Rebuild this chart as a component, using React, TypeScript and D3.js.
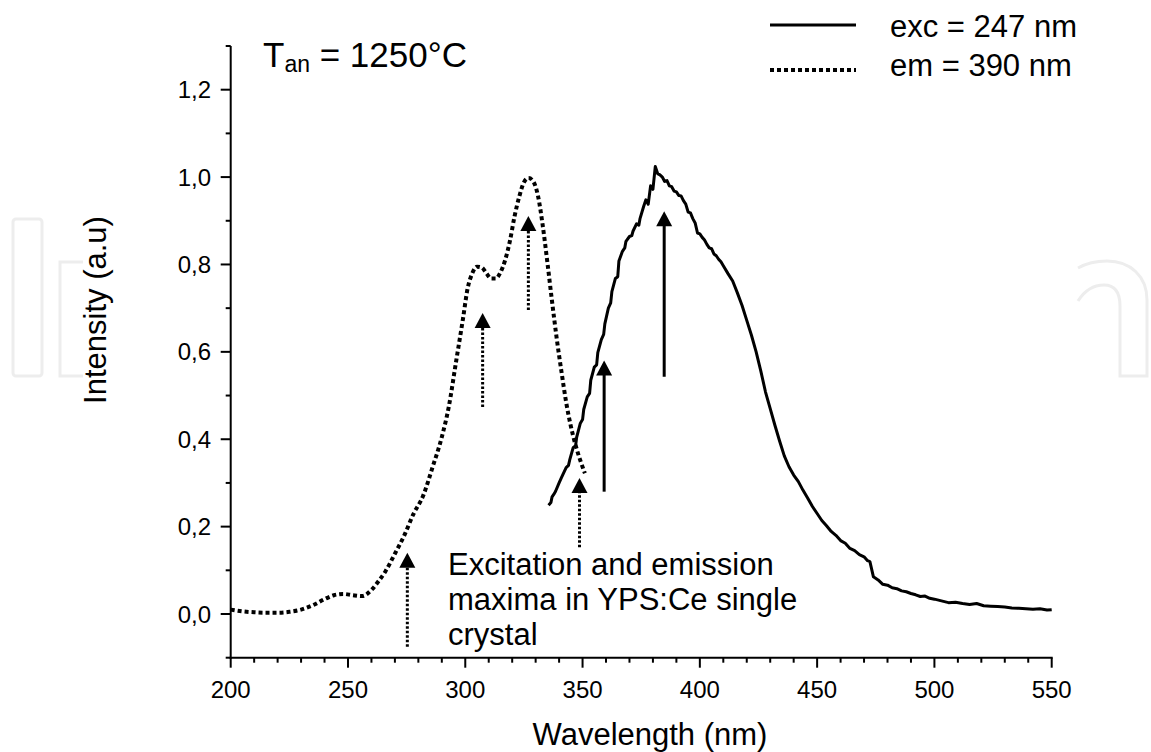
import React from "react";
import * as d3 from "d3";

// Excitation spectrum monitored at em = 390 nm (dotted)
const emMonWavelength = [200,205,210,215,220,225,230,235,240,244,248,252,256,260,263,266,270,274,278,282,286,290,293,296,299,301,303,305,307,309,311,313,315,317,319,321,323,325,327,329,331,333,335,337,339,341,343,345,347,349,351];
const emMonIntensity = [0.010,0.006,0.004,0.003,0.003,0.005,0.010,0.020,0.034,0.043,0.046,0.043,0.041,0.055,0.075,0.098,0.138,0.180,0.230,0.270,0.335,0.405,0.475,0.575,0.675,0.745,0.780,0.795,0.793,0.780,0.768,0.768,0.782,0.810,0.853,0.910,0.955,0.988,0.998,0.990,0.957,0.890,0.805,0.715,0.630,0.555,0.485,0.430,0.387,0.352,0.322];

// Emission spectrum under exc = 247 nm (solid)
const excWavelength = [335.5,336.5,337,338,338.5,340,341,341.5,343,344,344.5,346,347,347.5,349,350,350.5,352,353,353.5,355,356,356.5,358,359,359.5,361,362,362.5,364,365,365.5,367,368,368.5,370,371,371.5,373,374,374.5,376,377,378,379,380,381,382,383,384,385,386,387,388,389,390,391,392,393,394,395,396,397,398,399,400,401,402,403,404,405,406,407,408,409,410,412,414,416,418,420,422,424,426,428,430,432,434,436,438,440,442,444,446,448,450,452,454,456,458,460,462,464,466,468,470,471.5,472.5,474,476,478,480,482,484,486,488,490,492,494,496,498,500,503,506,509,512,515,518,521,524,527,530,533,536,539,542,545,548,550];
const excIntensity = [0.249,0.255,0.268,0.276,0.281,0.300,0.312,0.318,0.335,0.340,0.352,0.381,0.384,0.405,0.436,0.445,0.468,0.497,0.505,0.535,0.565,0.570,0.598,0.628,0.640,0.664,0.700,0.712,0.738,0.768,0.772,0.808,0.830,0.838,0.853,0.864,0.866,0.876,0.893,0.890,0.905,0.932,0.948,0.938,0.980,0.972,1.024,1.008,1.005,1.000,0.990,0.992,0.980,0.978,0.968,0.966,0.958,0.957,0.946,0.938,0.920,0.918,0.905,0.895,0.872,0.870,0.862,0.856,0.846,0.838,0.836,0.824,0.820,0.812,0.806,0.797,0.779,0.762,0.735,0.706,0.672,0.638,0.600,0.556,0.508,0.470,0.432,0.396,0.362,0.337,0.318,0.303,0.283,0.265,0.246,0.230,0.214,0.202,0.189,0.180,0.168,0.162,0.150,0.145,0.136,0.131,0.122,0.120,0.085,0.078,0.068,0.066,0.060,0.058,0.053,0.051,0.047,0.044,0.040,0.041,0.036,0.034,0.030,0.026,0.027,0.024,0.022,0.024,0.019,0.018,0.017,0.016,0.014,0.013,0.012,0.011,0.012,0.009,0.010,0.008];

// Arrows marking maxima: x position (nm), bottom value, tip value
const arrowX = [275.3, 307.4, 326.9, 348.7, 359.2, 384.8];
const arrowBottom = [-0.075, 0.474, 0.696, 0.153, 0.280, 0.543];
const arrowTip = [0.140, 0.689, 0.911, 0.311, 0.580, 0.922];
const arrowDotted = [true, true, true, true, false, false];

const xMajorTicks = [200, 250, 300, 350, 400, 450, 500, 550];
const yMajorTicks = [0, 0.2, 0.4, 0.6, 0.8, 1.0, 1.2];
const yMinorTicks = [-0.1, 0.1, 0.3, 0.5, 0.7, 0.9, 1.1, 1.3];

const FONT = "'Liberation Sans', Arial, Helvetica, sans-serif";

export default function App() {
  const W = 1151, H = 752;
  const x = d3.scaleLinear().domain([200, 550]).range([230.7, 1051.7]);
  const y = d3.scaleLinear().domain([-0.1, 1.3]).range([657.7, 46]);

  const xMinor = d3.range(200, 551, 10);

  const dottedLine = d3.line<number>()
    .x((_, i) => x(emMonWavelength[i]))
    .y((d) => y(d))
    .curve(d3.curveMonotoneX)(emMonIntensity) as string;

  const solidLine = d3.line<number>()
    .x((_, i) => x(excWavelength[i]))
    .y((d) => y(d))
    .curve(d3.curveLinear)(excIntensity) as string;

  const fmt = (v: number) => d3.format(".1f")(v).replace(".", ",");
  const x0 = x(200), yb = y(-0.1);
  const wm = "#ededed";

  return (
    <svg width={W} height={H} style={{ position: "absolute", left: 0, top: 0, background: "#fff" }} fontFamily={FONT}>
      {/* faint watermark */}
      <g fill="none" stroke={wm} strokeWidth={3}>
        <rect x={13} y={219} width={29} height={157} rx={3} />
        <path d="M83,262 L60,262 L60,376 L83,376" />
        <path d="M1078,301 C1085,290 1094,285 1104,285 C1115,285 1120,293 1120,306 L1120,376 L1147,376 L1147,300 C1147,276 1130,261 1107,261 C1095,261 1085,264 1078,268" />
      </g>

      {/* axes */}
      <g stroke="#000" strokeWidth={2}>
        <line x1={x0} y1={y(1.3)} x2={x0} y2={yb + 1} />
        <line x1={x0 - 1} y1={yb} x2={x(550) + 1} y2={yb} />
        {yMajorTicks.map((t) => (
          <line key={"ym" + t} x1={x0 - 10} x2={x0} y1={y(t)} y2={y(t)} />
        ))}
        {yMinorTicks.map((t) => (
          <line key={"yn" + t} x1={x0 - 5} x2={x0} y1={y(t)} y2={y(t)} />
        ))}
        {xMinor.map((t) => (
          <line key={"xn" + t} x1={x(t)} x2={x(t)} y1={yb} y2={yb + (t % 50 === 0 ? 10 : 5)} />
        ))}
      </g>
      <g fontSize={24} fill="#000">
        {yMajorTicks.map((t) => (
          <text key={"yl" + t} x={211} y={y(t) + 8.5} textAnchor="end">{fmt(t)}</text>
        ))}
        {xMajorTicks.map((t) => (
          <text key={"xl" + t} x={x(t)} y={698} textAnchor="middle">{t}</text>
        ))}
      </g>

      {/* axis titles */}
      <text x={650} y={745} fontSize={31} textAnchor="middle">Wavelength (nm)</text>
      <text transform="translate(106,310) rotate(-90)" fontSize={31} textAnchor="middle">Intensity (a.u)</text>

      {/* curves */}
      <path d={dottedLine} fill="none" stroke="#000" strokeWidth={4} strokeDasharray="4,3" />
      <path d={solidLine} fill="none" stroke="#000" strokeWidth={3} strokeLinejoin="round" />

      {/* arrows */}
      {arrowX.map((ax, i) => {
        const tipY = y(arrowTip[i]);
        const botY = y(arrowBottom[i]);
        const cx = x(ax);
        return (
          <g key={"ar" + i}>
            <line x1={cx} x2={cx} y1={botY} y2={tipY + 12}
              stroke="#000" strokeWidth={3} strokeDasharray={arrowDotted[i] ? "2.5,2" : undefined} />
            <path d={`M${cx},${tipY} L${cx - 8},${tipY + 15} L${cx + 8},${tipY + 15} Z`} fill="#000" />
          </g>
        );
      })}

      {/* annotation */}
      <g fontSize={31} fill="#000">
        <text x={448} y={575}>Excitation and emission</text>
        <text x={448} y={610}>maxima in YPS:Ce single</text>
        <text x={448} y={645}>crystal</text>
      </g>

      {/* title */}
      <text x={263} y={67} fontSize={35}>
        T<tspan fontSize={23} dy={5}>an</tspan><tspan dy={-5}> = 1250°C</tspan>
      </text>

      {/* legend */}
      <line x1={770} x2={856} y1={25} y2={25} stroke="#000" strokeWidth={3} />
      <line x1={770} x2={856} y1={70} y2={70} stroke="#000" strokeWidth={4} strokeDasharray="4,3" />
      <text x={890} y={37} fontSize={31}>exc = 247 nm</text>
      <text x={890} y={76} fontSize={31}>em = 390 nm</text>
    </svg>
  );
}
